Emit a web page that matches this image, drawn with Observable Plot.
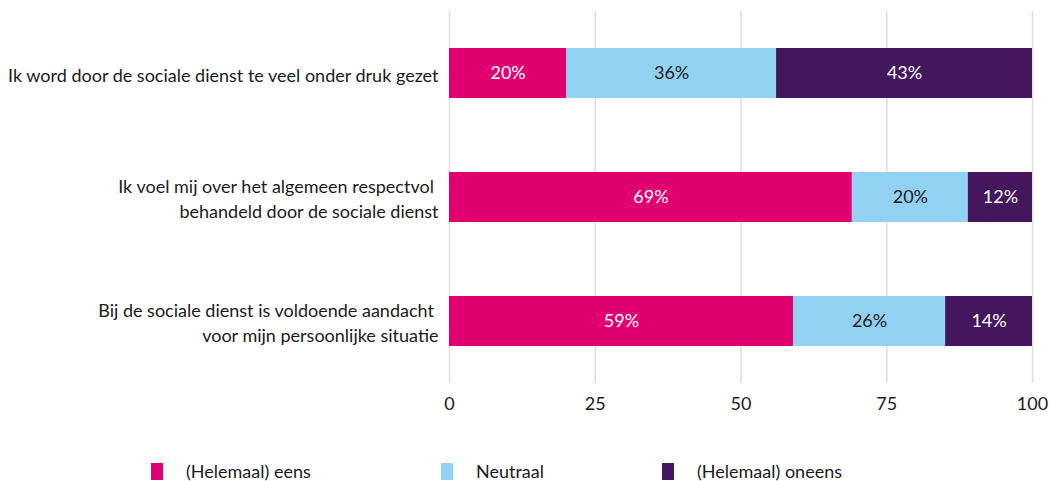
<!DOCTYPE html>
<html>
<head>
<meta charset="utf-8">
<script src="https://cdn.jsdelivr.net/npm/d3@7"></script>
<script src="https://cdn.jsdelivr.net/npm/@observablehq/plot@0.6"></script>
<style>
  body { margin: 0; background: #fff; font-family: Lato, "Noto Sans", sans-serif; color: #1a1a1a; }
  #legend { display: flex; padding-left: 151px; padding-top: 40px; font-size: 18px; }
  .item { display: flex; align-items: center; }
  .sw { width: 12px; height: 17px; margin-right: 23px; }
</style>
</head>
<body>
<div id="chart"></div>
<div id="legend"></div>
<script>
const categories = [
  "Ik word door de sociale dienst te veel onder druk gezet",
  "Ik voel mij over het algemeen respectvol \nbehandeld door de sociale dienst",
  "Bij de sociale dienst is voldoende aandacht \nvoor mijn persoonlijke situatie"
];
const series = ["(Helemaal) eens", "Neutraal", "(Helemaal) oneens"];
const colors = ["#E0006F", "#91D1F2", "#43165E"];
// segment lengths
const eens = [20.1, 69.1, 59.0];
const neutraal = [36.0, 19.9, 26.1];
const oneens = [43.9, 11.0, 14.9];
// printed labels
const eensLabels = [20, 69, 59];
const neutraalLabels = [36, 20, 26];
const oneensLabels = [43, 12, 14];
const xTicks = [0, 25, 50, 75, 100];

const valueSets = [eens, neutraal, oneens];
const labelSets = [eensLabels, neutraalLabels, oneensLabels];
const data = [];
categories.forEach((c, i) => {
  series.forEach((s, j) => {
    data.push({category: c, answer: s, value: valueSets[j][i], label: labelSets[j][i]});
  });
});

const font = "Lato, 'Noto Sans', sans-serif";
const stackOpts = {x: "value", y: "category", order: series};

const chart = Plot.plot({
  width: 1051,
  height: 420,
  marginLeft: 449,
  marginRight: 19,
  marginTop: 11,
  marginBottom: 37,
  style: {fontFamily: font, fontSize: "18px", color: "#1a1a1a", background: "white"},
  x: {domain: [0, 100]},
  y: {domain: categories, paddingInner: 0.6, paddingOuter: 0.3},
  color: {domain: series, range: colors},
  marks: [
    Plot.gridX(xTicks, {stroke: "#dddddd", strokeOpacity: 1, strokeWidth: 1.5}),
    Plot.barX(data, Plot.stackX({...stackOpts, z: "answer", fill: "answer"})),
    Plot.textX(data, {
      ...Plot.stackX({...stackOpts, z: "answer", text: d => d.label + "%"}),
      filter: d => d.answer !== "Neutraal",
      fill: "white", fontSize: 18
    }),
    Plot.textX(data, {
      ...Plot.stackX({...stackOpts, z: "answer", text: d => d.label + "%"}),
      filter: d => d.answer === "Neutraal",
      fill: "#1a1a1a", fontSize: 18
    }),
    Plot.axisX({ticks: xTicks, tickSize: 0, tickPadding: 14, label: null, fontSize: 18}),
    Plot.axisY({tickSize: 0, tickPadding: 11, label: null, lineHeight: 1.42, fontSize: 18})
  ]
});
document.getElementById("chart").appendChild(chart);

const itemWidths = [290, 221, 300];
const legend = document.getElementById("legend");
series.forEach((s, j) => {
  const it = document.createElement("div");
  it.className = "item";
  it.style.width = itemWidths[j] + "px";
  const sw = document.createElement("div");
  sw.className = "sw";
  sw.style.background = colors[j];
  const t = document.createElement("span");
  t.textContent = s;
  it.appendChild(sw);
  it.appendChild(t);
  legend.appendChild(it);
});
</script>
</body>
</html>
